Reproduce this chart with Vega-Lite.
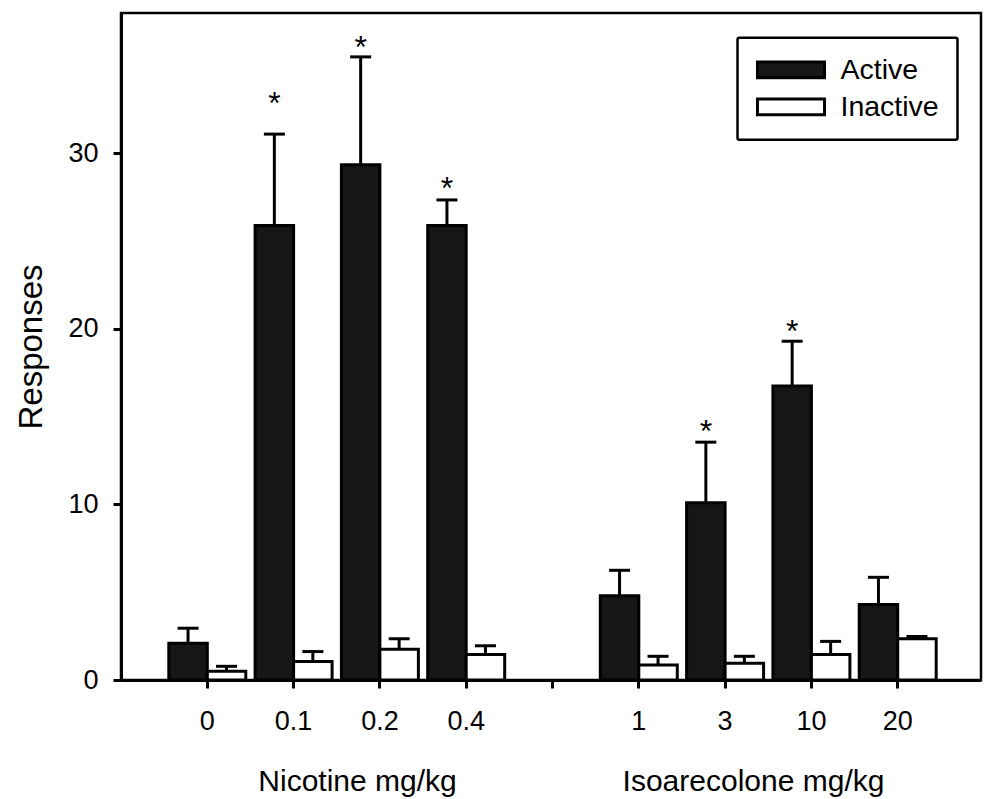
{
  "$schema": "https://vega.github.io/schema/vega-lite/v6.json",
  "width": 860,
  "height": 667,
  "autosize": {"type": "none"},
  "padding": {"left": 121, "top": 13, "right": 3, "bottom": 119},
  "config": {
    "font": "Liberation Sans",
    "view": {"stroke": "black", "strokeWidth": 2.5},
    "axis": {"labelColor": "black", "titleColor": "black", "tickColor": "black", "domainColor": "black", "grid": false, "titleFontWeight": "normal"},
    "legend": {"strokeWidth": 2.5}
  },
  "data": {
    "values": [
      {"dose": "0", "lever": "Active", "mean": 2.1, "upper": 2.95},
      {"dose": "0", "lever": "Inactive", "mean": 0.5, "upper": 0.78},
      {"dose": "0.1", "lever": "Active", "mean": 25.9, "upper": 31.1, "star": 33.2},
      {"dose": "0.1", "lever": "Inactive", "mean": 1.05, "upper": 1.62},
      {"dose": "0.2", "lever": "Active", "mean": 29.35, "upper": 35.5, "star": 36.4},
      {"dose": "0.2", "lever": "Inactive", "mean": 1.75, "upper": 2.35},
      {"dose": "0.4", "lever": "Active", "mean": 25.9, "upper": 27.35, "star": 28.4},
      {"dose": "0.4", "lever": "Inactive", "mean": 1.45, "upper": 1.95},
      {"dose": "1", "lever": "Active", "mean": 4.8, "upper": 6.25},
      {"dose": "1", "lever": "Inactive", "mean": 0.85, "upper": 1.35},
      {"dose": "3", "lever": "Active", "mean": 10.1, "upper": 13.55, "star": 14.5},
      {"dose": "3", "lever": "Inactive", "mean": 0.95, "upper": 1.35},
      {"dose": "10", "lever": "Active", "mean": 16.75, "upper": 19.3, "star": 20.2},
      {"dose": "10", "lever": "Inactive", "mean": 1.45, "upper": 2.2},
      {"dose": "20", "lever": "Active", "mean": 4.3, "upper": 5.85},
      {"dose": "20", "lever": "Inactive", "mean": 2.35, "upper": 2.48}
    ]
  },
  "layer": [
    {
      "mark": {"type": "bar", "stroke": "black", "strokeWidth": 3},
      "encoding": {
        "x": {
          "field": "dose", "type": "nominal",
          "scale": {"domain": ["0", "0.1", "0.2", "0.4", " ", "1", "3", "10", "20"], "paddingInner": 0, "paddingOuter": 0.4826, "align": 0.518},
          "axis": {"title": "Nicotine mg/kg", "labelAngle": 0, "labelFontSize": 27, "labelPadding": 41, "labelBaseline": "alphabetic", "tickSize": 8, "tickWidth": 3, "domainWidth": 3, "titleFontSize": 30, "titleX": 236, "titleY": 110, "titleBaseline": "alphabetic"}
        },
        "xOffset": {"field": "lever", "type": "nominal", "scale": {"domain": ["Active", "Inactive"], "paddingInner": 0, "paddingOuter": 0.121}},
        "y": {
          "field": "mean", "type": "quantitative",
          "scale": {"domain": [0, 38], "nice": false},
          "axis": {"title": "Responses", "values": [0, 10, 20, 30], "labelFontSize": 27, "labelPadding": 15, "tickSize": 8, "tickWidth": 3, "domainWidth": 3, "titleFontSize": 33, "titleX": -80, "titleBaseline": "alphabetic"}
        },
        "fill": {
          "field": "lever", "type": "nominal",
          "scale": {"domain": ["Active", "Inactive"], "range": ["#161616", "#ffffff"]},
          "legend": {"title": null, "orient": "none", "legendX": 616.5, "legendY": 24.8, "symbolType": "M-1,-0.235H1V0.235H-1Z", "symbolSize": 4500, "symbolStrokeColor": "black", "symbolStrokeWidth": 3, "labelFontSize": 28.5, "labelColor": "black", "labelOffset": 14, "clipHeight": 28, "rowPadding": 8, "padding": 18, "strokeColor": "black", "cornerRadius": 2}
        }
      }
    },
    {
      "mark": {"type": "rule", "strokeWidth": 3, "color": "black"},
      "encoding": {
        "x": {"field": "dose", "type": "nominal", "axis": null},
        "xOffset": {"field": "lever", "type": "nominal"},
        "y": {"field": "mean", "type": "quantitative"},
        "y2": {"field": "upper"}
      }
    },
    {
      "mark": {"type": "tick", "thickness": 3, "size": 21, "color": "black", "opacity": 1},
      "encoding": {
        "x": {"field": "dose", "type": "nominal", "axis": null},
        "xOffset": {"field": "lever", "type": "nominal"},
        "y": {"field": "upper", "type": "quantitative"}
      }
    },
    {
      "transform": [{"filter": "datum.star != null"}],
      "mark": {"type": "text", "text": "*", "fontSize": 32, "baseline": "alphabetic", "dy": 17, "color": "black"},
      "encoding": {
        "x": {"field": "dose", "type": "nominal", "axis": {"title": "Isoarecolone mg/kg", "orient": "bottom", "labels": false, "ticks": false, "domain": false, "titleFontSize": 30, "titleX": 632, "titleY": 110, "titleBaseline": "alphabetic"}},
        "xOffset": {"field": "lever", "type": "nominal"},
        "y": {"field": "star", "type": "quantitative"}
      }
    }
  ],
  "resolve": {"axis": {"x": "independent"}}
}
